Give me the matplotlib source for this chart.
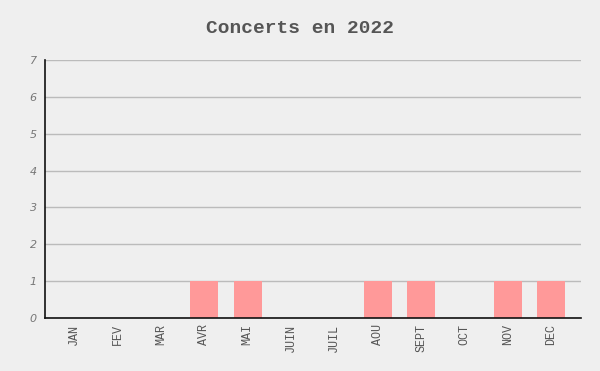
import matplotlib
matplotlib.use("Agg")
import matplotlib.pyplot as plt

months = ["JAN", "FEV", "MAR", "AVR", "MAI", "JUIN", "JUIL", "AOU", "SEPT", "OCT", "NOV", "DEC"]
concerts = [0, 0, 0, 1, 1, 0, 0, 1, 1, 0, 1, 1]
y_ticks = [0, 1, 2, 3, 4, 5, 6, 7]

fig = plt.figure(figsize=(6, 3.71), dpi=100, facecolor="#efefef")
ax = fig.add_axes([0.075, 0.143, 0.893, 0.695], facecolor="#efefef")

# bars
ax.bar(range(len(months)), concerts, width=0.65, color="#ff9999", zorder=3)

# axes
ax.set_xlim(-0.67, 11.68)
ax.set_ylim(0, 7)
ax.set_yticks(y_ticks)
ax.set_yticklabels([str(v) for v in y_ticks], fontsize=8, style="italic",
                   color="#777777", family="DejaVu Sans")
ax.set_xticks(range(len(months)))
ax.set_xticklabels(months, rotation=90, fontsize=8.5, color="#555555",
                   family="Liberation Mono")
ax.tick_params(axis="y", length=0, pad=6)
ax.tick_params(axis="x", length=0, pad=4)
ax.yaxis.grid(True, color="#bbbbbb", linewidth=1, zorder=0)
for s in ["top", "right"]:
    ax.spines[s].set_visible(False)
for s in ["left", "bottom"]:
    ax.spines[s].set_color("#111111")
    ax.spines[s].set_linewidth(1.2)
    ax.spines[s].set_zorder(4)

fig.text(0.5, 0.922, "Concerts en 2022", ha="center", va="center", fontsize=14,
         fontweight="bold", color="#555555", family="Liberation Mono")

fig.savefig("out.png", dpi=100, facecolor=fig.get_facecolor())
